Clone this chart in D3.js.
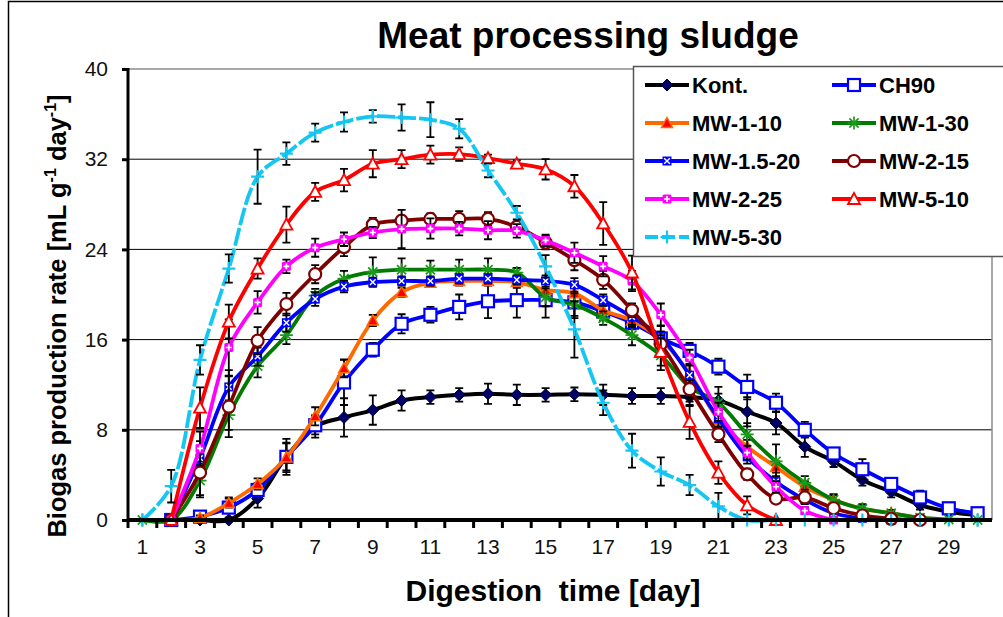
<!DOCTYPE html>
<html lang="en">
<head>
<meta charset="UTF-8" />
<title>Meat processing sludge</title>
<script src="https://d3js.org/d3.v7.min.js"></script>
<style>
    body { margin: 0; background: #fff; }
    svg { display: block; font-family: "Liberation Sans", Arial, sans-serif; }
</style>
</head>
<body>
<script>
    var w = 1003;
    var h = 617;

    // days on the category axis
    var days = d3.range(1, 31);
    var yTicks = [0, 8, 16, 24, 32, 40];
    var seriesNames = ["Kont.", "CH90", "MW-1-10", "MW-1-30", "MW-1.5-20", "MW-2-15", "MW-2-25", "MW-5-10", "MW-5-30"];

    // biogas production rate per day (null = no point)
    var kont    = [null, 0, 0, 0, 1.9, 5.6, 8.3, 9.1, 9.75, 10.6, 10.9, 11.1, 11.2, 11.1, 11.1, 11.15, 11.1, 11.0, 11.0, 10.9, 10.6, 9.6, 8.6, 6.5, 5.2, 3.55, 2.5, 1.33, 0.74, 0.44];
    var ch90    = [null, 0, 0.3, 1.1, 2.66, 5.6, 8.4, 12.2, 15.1, 17.4, 18.2, 18.9, 19.4, 19.5, 19.5, 19.3, 18.5, 17.5, 16.1, 15.0, 13.6, 11.8, 10.4, 8.0, 5.9, 4.5, 3.2, 2.0, 1.04, 0.6];
    var mw1_10  = [null, 0, 0.2, 1.5, 3.2, 5.55, 9.2, 13.45, 17.7, 20.2, 21.05, 21.2, 21.2, 21.1, 20.4, 20.1, 18.6, 17.7, 16.0, 13.0, 8.9, 6.5, 4.7, 2.95, 1.8, 1.0, 0.6, 0.15, null, null];
    var mw1_30  = [0, 0, 3.5, 9.3, 13.65, 16.4, 19.9, 21.4, 22.0, 22.2, 22.2, 22.2, 22.2, 21.95, 19.75, 19.1, 17.9, 16.4, 14.6, 11.8, 10.4, 7.6, 5.2, 3.3, 1.8, 1.0, 0.6, 0.2, 0.05, 0];
    var mw15_20 = [null, 0, 5.5, 11.8, 14.5, 17.5, 19.6, 20.7, 21.1, 21.2, 21.2, 21.4, 21.4, 21.3, 21.2, 20.85, 19.5, 18.0, 16.25, 12.85, 9.0, 5.6, 3.4, 1.8, 0.6, 0.15, 0, null, null, null];
    var mw2_15  = [null, 0, 4.2, 10.05, 15.9, 19.15, 21.8, 24.2, 26.2, 26.55, 26.7, 26.7, 26.7, 26.0, 24.6, 23.05, 21.3, 18.6, 15.6, 11.6, 7.6, 4.05, 1.9, 2.0, 1.04, 0.4, 0.1, 0, null, null];
    var mw2_25  = [null, 0, 6.35, 15.3, 19.3, 22.5, 24.15, 24.9, 25.5, 25.8, 25.85, 25.85, 25.7, 25.65, 24.8, 23.7, 22.5, 21.2, 18.2, 14.4, 9.6, 5.97, 2.95, 0.83, 0, null, null, null, null, null];
    var mw5_10  = [null, 0, 9.96, 17.6, 22.3, 26.2, 29.1, 30.15, 31.6, 32.0, 32.4, 32.45, 32.1, 31.6, 31.1, 29.6, 26.3, 21.95, 14.9, 8.7, 4.2, 1.3, 0, null, null, null, null, null, null, null];
    var mw5_30  = [0, 3.0, 14.2, 22.3, 30.45, 32.5, 34.35, 35.3, 35.8, 35.7, 35.5, 34.7, 31.0, 27.25, 22.5, 16.9, 10.4, 6.15, 4.3, 3.1, 1.2, 0, 0, 0, 0, 0, 0, 0, 0, 0];

    // standard deviations (error bars)
    var kontErr    = [0, 0, 0, 0, 0.8, 1.6, 1.0, 1.7, 1.3, 0.9, 0.6, 0.6, 0.9, 0.9, 0.6, 0.6, 0.9, 0.7, 0.7, 0.8, 1.2, 1.3, 1.0, 0.9, 0.5, 0.5, 0.5, 0.4, 0.3, 0.2];
    var ch90Err    = [0, 0, 0.3, 0.9, 0.6, 1.2, 0.8, 2.0, 0.6, 0.85, 0.7, 1.1, 1.5, 1.55, 1.55, 1.4, 0.8, 0.6, 0.6, 0.7, 0.7, 1.1, 0.8, 0.7, 0.4, 0.9, 0.4, 0.6, 0.3, 0.3];
    var mw1_10Err  = [0, 0, 0.2, 0.4, 0.5, 1.3, 0.8, 0.8, 0.5, 0.4, 0.4, 0.4, 0.4, 0.5, 0.6, 0.8, 0.6, 0.6, 0.7, 0.8, 0.8, 0.6, 0.5, 0.5, 0.4, 0.3, 0.2, 0.1, 0, 0];
    var mw1_30Err  = [0, 0, 1.5, 1.3, 1.0, 0.8, 0.6, 0.7, 1.3, 1.0, 0.8, 0.9, 1.0, 0.4, 0.8, 1.0, 0.6, 0.9, 1.3, 1.3, 0.8, 1.0, 1.5, 0.6, 0.5, 0.4, 0.3, 0.2, 0, 0];
    var mw15_20Err = [0, 0, 1.5, 1.5, 0.8, 0.8, 0.6, 0.5, 0.4, 0.4, 0.4, 0.4, 0.4, 0.4, 0.5, 0.6, 0.5, 0.8, 1.0, 1.0, 0.8, 0.6, 0.5, 0.4, 0.3, 0.1, 0, 0, 0, 0];
    var mw2_15Err  = [0, 0, 2.0, 2.7, 1.2, 1.0, 0.8, 0.8, 0.6, 0.4, 0.5, 0.7, 0.6, 0.4, 0.6, 0.9, 0.8, 0.6, 0.8, 0.8, 0.7, 0.5, 0.4, 0.4, 0.3, 0.2, 0, 0, 0, 0];
    var mw2_25Err  = [0, 0, 1.5, 2.5, 1.0, 0.6, 0.8, 0.6, 0.5, 1.7, 0.9, 0.6, 0.8, 0.6, 0.5, 0.9, 0.9, 0.9, 1.0, 0.7, 0.8, 0.6, 0.5, 0.3, 0, 0, 0, 0, 0, 0];
    var mw5_10Err  = [0, 0, 1.8, 1.5, 0.9, 1.6, 0.8, 1.0, 1.2, 0.8, 0.8, 0.6, 0.3, 0.3, 0.9, 1.0, 1.9, 1.5, 1.2, 1.5, 1.0, 0.8, 0, 0, 0, 0, 0, 0, 0, 0];
    var mw5_30Err  = [0, 1.45, 1.3, 1.25, 2.4, 1.0, 0.8, 0.85, 0.55, 1.17, 1.55, 0.86, 0.6, 0.6, 1.0, 2.5, 1.1, 1.5, 1.25, 0.9, 1.2, 0, 0, 0, 0, 0, 0, 0, 0, 0];

    var values = [kont, ch90, mw1_10, mw1_30, mw15_20, mw2_15, mw2_25, mw5_10, mw5_30];
    var errors = [kontErr, ch90Err, mw1_10Err, mw1_30Err, mw15_20Err, mw2_15Err, mw2_25Err, mw5_10Err, mw5_30Err];

    // look of every series
    var styles = [
        { color: "#000000", width: 4,   marker: "diamond" },
        { color: "#0000ff", width: 3.8, marker: "square" },
        { color: "#ff6a00", width: 3.8, marker: "triFill" },
        { color: "#007a00", width: 3.8, marker: "star" },
        { color: "#0000ff", width: 3.8, marker: "xbox" },
        { color: "#7f0000", width: 3.8, marker: "circle" },
        { color: "#ff00ff", width: 3.8, marker: "plusbox" },
        { color: "#ff0000", width: 3.8, marker: "triOpen" },
        { color: "#14c6f2", width: 3.8, marker: "plus", dash: "18,3" }
    ];

    var svg = d3.select("body")
        .append("svg")
        .attr("width", w)
        .attr("height", h);

    // outer frame
    svg.append("rect")
        .attr("x", 8.5).attr("y", 1.5)
        .attr("width", 1000).attr("height", 620)
        .attr("fill", "none")
        .attr("stroke", "#000")
        .attr("stroke-width", 1.5);

    // plot area edges
    var plotL = 128, plotR = 992, plotT = 69, plotB = 520;

    // Scales
    var xScale = d3.scaleBand()
        .domain(days)
        .range([plotL, plotR])
        .padding(0);

    var yScale = d3.scaleLinear()
        .domain([0, 40])
        .range([plotB, plotT]);

    function cx(i) {
        return xScale(days[i]) + xScale.bandwidth() / 2;
    }

    // gridlines
    svg.append("g")
        .selectAll("line")
        .data(yTicks.slice(1, -1))
        .enter()
        .append("line")
        .attr("x1", plotL).attr("x2", plotR)
        .attr("y1", function(d) { return yScale(d); })
        .attr("y2", function(d) { return yScale(d); })
        .attr("stroke", "#000")
        .attr("stroke-width", 1);

    // plot area border (top and right)
    svg.append("path")
        .attr("d", "M" + plotL + "," + plotT + "H" + plotR + "V" + plotB)
        .attr("fill", "none")
        .attr("stroke", "#8c8c8c")
        .attr("stroke-width", 1.5);

    // Title
    svg.append("text")
        .attr("x", 588)
        .attr("y", 48)
        .attr("text-anchor", "middle")
        .attr("font-size", 37)
        .attr("font-weight", "bold")
        .text("Meat processing sludge");

    // series
    var line = d3.line()
        .defined(function(d) { return d != null; })
        .x(function(d, i) { return cx(i); })
        .y(function(d) { return yScale(d); })
        .curve(d3.curveCatmullRom.alpha(0.5));

    function drawMarker(g, type, x, y, color) {
        var m = g.append("g").attr("transform", "translate(" + x + "," + y + ")");
        if (type == "diamond") {
            m.append("path").attr("d", "M0,-6L6,0L0,6L-6,0Z")
                .attr("fill", "#000066").attr("stroke", "#000033").attr("stroke-width", 1);
        } else if (type == "square") {
            m.append("rect").attr("x", -6).attr("y", -6).attr("width", 12).attr("height", 12)
                .attr("fill", "#fff").attr("stroke", color).attr("stroke-width", 2.2);
        } else if (type == "triFill") {
            m.append("path").attr("d", "M0,-5.5L5.5,4.5L-5.5,4.5Z")
                .attr("fill", "#ff0000").attr("stroke", color).attr("stroke-width", 1.5);
        } else if (type == "triOpen") {
            m.append("path").attr("d", "M0,-6L6,5L-6,5Z")
                .attr("fill", "#fff").attr("stroke", color).attr("stroke-width", 1.8);
        } else if (type == "circle") {
            m.append("circle").attr("r", 6)
                .attr("fill", "#fff").attr("stroke", color).attr("stroke-width", 2.2);
        } else if (type == "star") {
            m.append("path").attr("d", "M-6.5,0H6.5M0,-6.5V6.5M-4.6,-4.6L4.6,4.6M-4.6,4.6L4.6,-4.6")
                .attr("stroke", "#1a9a1a").attr("stroke-width", 1.7);
        } else if (type == "plus") {
            m.append("path").attr("d", "M-6.5,0H6.5M0,-6.5V6.5")
                .attr("stroke", color).attr("stroke-width", 2.2);
        } else if (type == "xbox") {
            m.append("rect").attr("x", -4.5).attr("y", -4.5).attr("width", 9).attr("height", 9)
                .attr("fill", color);
            m.append("path").attr("d", "M-2.8,-2.8L2.8,2.8M-2.8,2.8L2.8,-2.8")
                .attr("stroke", "#fff").attr("stroke-width", 1.4);
        } else if (type == "plusbox") {
            m.append("rect").attr("x", -4.5).attr("y", -4.5).attr("width", 9).attr("height", 9).attr("rx", 1.5)
                .attr("fill", color);
            m.append("path").attr("d", "M-3,0H3M0,-3V3")
                .attr("stroke", "#fff").attr("stroke-width", 1.7);
        }
    }

    values.forEach(function(vals, s) {
        var st = styles[s];
        var g = svg.append("g").attr("class", "series");

        g.append("path")
            .datum(vals)
            .attr("d", line)
            .attr("fill", "none")
            .attr("stroke", st.color)
            .attr("stroke-width", st.width)
            .attr("stroke-linejoin", "round")
            .attr("stroke-dasharray", st.dash || null);

        // error bars
        vals.forEach(function(v, i) {
            var e = errors[s][i];
            if (v == null || !e) return;
            var x = cx(i);
            var y1 = yScale(v - e), y2 = yScale(v + e);
            g.append("path")
                .attr("d", "M" + x + "," + y1 + "V" + y2 +
                    "M" + (x - 4) + "," + y1 + "H" + (x + 4) +
                    "M" + (x - 4) + "," + y2 + "H" + (x + 4))
                .attr("fill", "none")
                .attr("stroke", "#000")
                .attr("stroke-width", 1.8);
        });

        vals.forEach(function(v, i) {
            if (v == null) return;
            drawMarker(g, st.marker, cx(i), yScale(v), st.color);
        });
    });

    // Y axis
    var yAxis = d3.axisLeft(yScale)
        .tickValues(yTicks)
        .tickSize(6)
        .tickPadding(14);

    var yG = svg.append("g")
        .attr("transform", "translate(" + plotL + ",0)")
        .call(yAxis);
    yG.select(".domain").attr("stroke-width", 3).attr("d", "M0," + (plotT - 1) + "V" + plotB);
    yG.selectAll(".tick line").attr("stroke-width", 3);
    yG.selectAll(".tick text")
        .attr("font-family", "Liberation Sans, Arial, sans-serif")
        .attr("font-size", 21)
        .attr("fill", "#111");

    // X axis: labels at category centers, tick marks between categories
    var xAxis = d3.axisBottom(xScale)
        .tickSize(0)
        .tickPadding(19)
        .tickFormat(function(d) { return d % 2 == 1 ? d : ""; });

    var xG = svg.append("g")
        .attr("transform", "translate(0," + plotB + ")")
        .call(xAxis);
    xG.select(".domain").remove();
    xG.selectAll(".tick text")
        .attr("font-family", "Liberation Sans, Arial, sans-serif")
        .attr("font-size", 21)
        .attr("fill", "#111");

    svg.append("g")
        .selectAll("line")
        .data(days)
        .enter()
        .append("line")
        .attr("x1", function(d) { return xScale(d); })
        .attr("x2", function(d) { return xScale(d); })
        .attr("y1", plotB)
        .attr("y2", plotB + 8)
        .attr("stroke", "#000")
        .attr("stroke-width", 3);

    svg.append("line")
        .attr("x1", plotL - 1).attr("x2", plotR)
        .attr("y1", plotB).attr("y2", plotB)
        .attr("stroke", "#000")
        .attr("stroke-width", 4);

    // axis titles
    svg.append("text")
        .attr("x", 553)
        .attr("y", 601)
        .attr("text-anchor", "middle")
        .attr("font-size", 30)
        .attr("font-weight", "bold")
        .style("white-space", "pre")
        .text("Digestion  time [day]");

    var yLabel = svg.append("text")
        .attr("transform", "translate(66,316) rotate(-90)")
        .attr("text-anchor", "middle")
        .attr("font-size", 25.5)
        .attr("font-weight", "bold");
    yLabel.append("tspan").text("Biogas production rate [mL g");
    yLabel.append("tspan").attr("font-size", 16).attr("dy", -10).text("-1");
    yLabel.append("tspan").attr("dy", 10).text(" day");
    yLabel.append("tspan").attr("font-size", 16).attr("dy", -10).text("-1");
    yLabel.append("tspan").attr("dy", 10).text("]");

    // Legend
    var legend = svg.append("g");
    legend.append("rect")
        .attr("x", 633.5).attr("y", 66.5)
        .attr("width", 400).attr("height", 190)
        .attr("fill", "#fff")
        .attr("stroke", "#555")
        .attr("stroke-width", 1.5);

    seriesNames.forEach(function(name, s) {
        var st = styles[s];
        var col = s % 2, row = Math.floor(s / 2);
        var lx = col == 0 ? 645 : 832;
        var ly = 85 + row * 38;
        legend.append("line")
            .attr("x1", lx).attr("x2", lx + 44)
            .attr("y1", ly).attr("y2", ly)
            .attr("stroke", st.color)
            .attr("stroke-width", st.width)
            .attr("stroke-dasharray", st.dash ? "13,4" : null);
        drawMarker(legend, st.marker, lx + 22, ly, st.color);
        legend.append("text")
            .attr("x", lx + 47)
            .attr("y", ly + 8)
            .attr("font-size", 22)
            .attr("font-weight", "bold")
            .text(name);
    });
</script>
</body>
</html>
